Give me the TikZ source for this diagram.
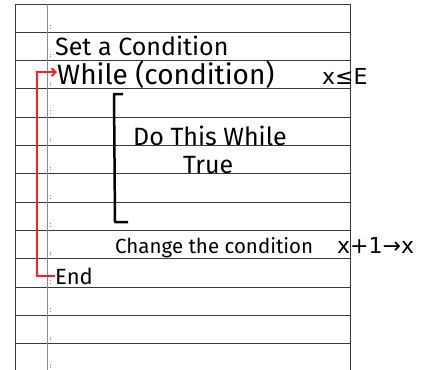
\documentclass[tikz,border=0pt]{standalone}
\usepackage{fontspec}
\setmainfont{Fira Sans}
\newfontfamily\symfont{DejaVu Sans}
\usepackage{xcolor}
\usepackage{tikz}
\usetikzlibrary{arrows.meta, positioning}
\definecolor{RuleDark}{HTML}{3A3A3A}
\definecolor{RuleGray}{HTML}{8A8A8A}
\definecolor{PenRed}{HTML}{FF2020}

\begin{document}
\begin{tikzpicture}[
    x=1pt, y=-1pt,
    rule/.style={draw=RuleDark, line width=0.9pt},
    margin/.style={draw=RuleGray, line width=1pt},
    tick/.style={draw=RuleGray, line width=0.5pt, dotted},
    hand/.style={anchor=base west, inner sep=0pt, text=black},
    big/.style={hand, font=\fontsize{28}{30}\selectfont},
    mid/.style={hand, font=\fontsize{25}{27}\selectfont},
    small/.style={hand, font=\fontsize{20.5}{22}\selectfont},
    sym/.style={hand, font=\symfont\fontsize{22}{24}\selectfont},
    loop/.style={draw=PenRed, line width=2pt, -{Straight Barb[length=4pt, width=8pt]}},
    bracket/.style={draw=black, line width=2.5pt, line join=round}
]
\useasboundingbox (0,0) rectangle (432,370);

% Paper
\foreach \k in {0,...,12}
  \draw[rule] (15.7, 4+28.3*\k) -- (350.3, 4+28.3*\k);
\draw[rule] (15.7,4) -- (15.7,370);
\draw[rule] (350.3,4) -- (350.3,370);
\draw[margin] (47,4) -- (47,370);
\foreach \k in {1,...,13}
  \draw[tick] (50, 4+28.3*\k-7) -- (50, 4+28.3*\k-3);

% Text
\node[mid] (setcond) at (55,55) {Set a Condition};
\node[big] (whiletxt) at (57,84) {While (condition)};
\node[sym] (xle) at (322,84) {x≤E};
\node[mid, text depth=0pt] (dothis) at (133,145) {Do This While};
\node[mid, text height=17pt] (truetxt) at (183,173) {True};
\node[small] (change) at (115,253) {Change the condition};
\node[sym] (xplus) at (337,253) {x+1→x};
\node[hand, font=\fontsize{22}{24}\selectfont] (endtxt) at (55,284) {End};

% Body bracket
\draw[bracket] (123,94) -- (114,94) -- (115,222) -- (128,222);

% Loop back
\draw[loop] (endtxt.west) -- ++(-18,0) |- ([yshift=2pt]whiletxt.west);
\end{tikzpicture}
\end{document}
